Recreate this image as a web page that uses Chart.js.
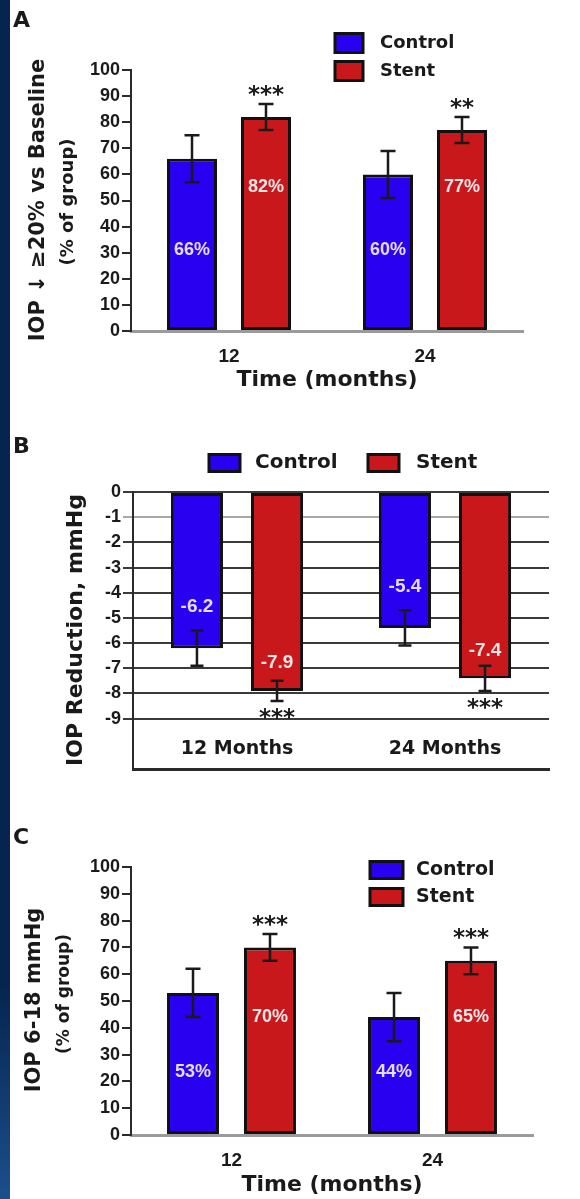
<!DOCTYPE html>
<html>
<head>
<meta charset="utf-8">
<script src="https://cdn.jsdelivr.net/npm/chart.js@4.4.1/dist/chart.umd.min.js"></script>
<style>
  html, body { margin: 0; padding: 0; background: #fff; }
  body { width: 580px; height: 1199px; position: relative; overflow: hidden; }
  canvas { position: absolute; left: 0; }
  #strip {
    position: absolute; left: 0; top: 0; width: 10px; height: 1199px; z-index: 2;
    background: linear-gradient(#06244f 0%, #06244f 82%, #1b4f8c 100%);
  }
</style>
</head>
<body>
<div id="strip"></div>
<canvas id="chartA" width="580" height="400" style="top:0;width:580px;height:400px"></canvas>
<canvas id="chartB" width="580" height="400" style="top:400px;width:580px;height:400px"></canvas>
<canvas id="chartC" width="580" height="399" style="top:800px;width:580px;height:399px"></canvas>
<script>
// data
const timeLabels = ["12", "24"];
const monthLabels = ["12 Months", "24 Months"];
const seriesNames = ["Control", "Stent"];

const percentTicks = [0, 10, 20, 30, 40, 50, 60, 70, 80, 90, 100];
const reductionTicks = [0, -1, -2, -3, -4, -5, -6, -7, -8, -9];

// A: IOP down >= 20% vs baseline (% of group)
const dropControl = [66, 60];
const dropStent = [82, 77];
const dropControlErr = [9, 9];
const dropStentErr = [5, 5];
const dropStars = ["***", "**"];

// B: IOP reduction, mmHg
const reductionControl = [-6.2, -5.4];
const reductionStent = [-7.9, -7.4];
const reductionControlErr = [0.7, 0.7];
const reductionStentErr = [0.4, 0.5];
const reductionStars = ["***", "***"];

// C: IOP 6-18 mmHg (% of group)
const rangeControl = [53, 44];
const rangeStent = [70, 65];
const rangeControlErr = [9, 9];
const rangeStentErr = [5, 5];
const rangeStars = ["***", "***"];

const FONT = '"DejaVu Sans", "Liberation Sans", sans-serif';
const NUM = '"Liberation Sans", Arial, sans-serif';
const BLUE = "#2a00f0";
const RED = "#c8181c";
const INK = "#1a1a1a";

// error bars, value labels, stars, legend and free text
const decor = {
  id: "decor",
  afterDatasetsDraw(chart, args, o) {
    const ctx = chart.ctx;
    const y = chart.scales.y;
    ctx.save();
    chart.data.datasets.forEach((ds, di) => {
      const meta = chart.getDatasetMeta(di);
      meta.data.forEach((bar, i) => {
        const v = ds.data[i];
        const e = ds.errors[i];
        const cx = bar.x;
        const yHi = y.getPixelForValue(v + e);
        const yLo = y.getPixelForValue(v - e);
        ctx.strokeStyle = INK;
        ctx.lineWidth = 2.5;
        ctx.beginPath();
        ctx.moveTo(cx, yHi); ctx.lineTo(cx, yLo);
        ctx.moveTo(cx - o.cap, yHi); ctx.lineTo(cx + o.cap, yHi);
        ctx.moveTo(cx - o.cap, yLo); ctx.lineTo(cx + o.cap, yLo);
        ctx.stroke();

        // value inside the bar
        const at = o.labelMode === "fixed" ? o.labelPos[di] : v + o.labelPos[di];
        ctx.font = "bold " + o.labelSize + "px " + NUM;
        ctx.fillStyle = di === 0 ? "#e4dcff" : "#f7e4e4";
        ctx.textAlign = "center";
        ctx.textBaseline = "middle";
        const txt = o.labelMode === "fixed" ? v + "%" : v.toFixed(1);
        ctx.fillText(txt, cx, y.getPixelForValue(at));

        // significance stars on the stent bars
        if (di === 1) {
          ctx.font = "bold 23px " + FONT;
          ctx.fillStyle = INK;
          ctx.textBaseline = "alphabetic";
          const sy = o.starDir === "up" ? yHi - 14 : yLo + 12;
          ctx.fillText(o.stars[i], cx, sy + 12);
        }
      });
    });

    // category labels drawn inside the plot (panel B)
    if (o.catLabels) {
      const x = chart.scales.x;
      ctx.font = "bold " + o.catSize + "px " + FONT;
      ctx.fillStyle = INK;
      ctx.textAlign = "center";
      ctx.textBaseline = "middle";
      o.catLabels.forEach((t, i) => ctx.fillText(t, x.getPixelForValue(i), o.catY));
    }

    // legend
    o.legend.forEach((it, di) => {
      const ds = chart.data.datasets[di];
      ctx.fillStyle = ds.backgroundColor;
      ctx.fillRect(it.x, it.cy - o.box[1] / 2, o.box[0], o.box[1]);
      ctx.lineWidth = 3;
      ctx.strokeStyle = "#111";
      ctx.strokeRect(it.x, it.cy - o.box[1] / 2, o.box[0], o.box[1]);
      ctx.font = "bold " + o.legendSize + "px " + FONT;
      ctx.fillStyle = INK;
      ctx.textAlign = "left";
      ctx.textBaseline = "middle";
      ctx.fillText(ds.label, it.tx, it.cy);
    });

    // panel letter and axis titles
    o.texts.forEach((t) => {
      ctx.save();
      ctx.translate(t.x, t.y);
      if (t.rot) ctx.rotate(-Math.PI / 2);
      ctx.font = "bold " + t.size + "px " + FONT;
      ctx.fillStyle = INK;
      ctx.textAlign = t.align || "center";
      ctx.textBaseline = "middle";
      ctx.fillText(t.t, 0, 0);
      ctx.restore();
    });
    ctx.restore();
  },
};

function barSet(name, values, errors, color, cat, bar) {
  return {
    label: name,
    data: values,
    errors: errors,
    backgroundColor: color,
    borderColor: "#111",
    borderWidth: 3,
    borderSkipped: false,
    categoryPercentage: cat,
    barPercentage: bar,
  };
}

function makeChart(id, labels, sets, yOpts, xOpts, layoutPad, yWidth, xHeight, decorOpts) {
  return new Chart(document.getElementById(id), {
    type: "bar",
    data: { labels: labels, datasets: sets },
    options: {
      responsive: false,
      animation: false,
      devicePixelRatio: 1,
      layout: { padding: layoutPad },
      plugins: { legend: { display: false }, tooltip: { enabled: false }, decor: decorOpts },
      scales: {
        x: Object.assign({ afterFit: (s) => { s.height = xHeight; } }, xOpts),
        y: Object.assign({ afterFit: (s) => { s.width = yWidth; } }, yOpts),
      },
    },
    plugins: [decor],
  });
}

const percentAxis = {
  min: 0,
  max: 100,
  afterBuildTicks: (s) => { s.ticks = percentTicks.map((v) => ({ value: v })); },
  grid: { drawOnChartArea: false, tickLength: 9, color: "#2a2a2a", lineWidth: 2 },
  border: { color: "#2a2a2a", width: 2 },
  ticks: { font: { family: NUM, size: 18, weight: "bold" }, color: INK, padding: 2 },
};

function timeAxis(pad) {
  return {
    grid: { display: false },
    border: { color: "#9b9b9b", width: 3 },
    ticks: { font: { family: NUM, size: 19, weight: "bold" }, color: INK, padding: pad },
  };
}

// Panel A
makeChart(
  "chartA",
  timeLabels,
  [
    barSet(seriesNames[0], dropControl, dropControlErr, BLUE, 0.755, 0.676),
    barSet(seriesNames[1], dropStent, dropStentErr, RED, 0.755, 0.676),
  ],
  percentAxis,
  timeAxis(6),
  { left: 0, right: 57, top: 70, bottom: 0 },
  131,
  69,
  {
    cap: 7.5,
    labelMode: "fixed",
    labelPos: [31, 55],
    labelSize: 18,
    starDir: "up",
    stars: dropStars,
    box: [28, 19],
    legend: [{ x: 335, cy: 43, tx: 380 }, { x: 335, cy: 71, tx: 380 }],
    legendSize: 18,
    texts: [
      { t: "A", x: 13, y: 21, size: 22, align: "left" },
      { t: "IOP ↓ ≥20% vs Baseline", x: 39, y: 200, size: 21, rot: true },
      { t: "(% of group)", x: 68, y: 202, size: 18, rot: true },
      { t: "Time (months)", x: 327, y: 380, size: 22 },
    ],
  }
);

// Panel B
makeChart(
  "chartB",
  monthLabels,
  [
    barSet(seriesNames[0], reductionControl, reductionControlErr, BLUE, 0.77, 0.65),
    barSet(seriesNames[1], reductionStent, reductionStentErr, RED, 0.77, 0.65),
  ],
  {
    min: -11,
    max: 0,
    afterBuildTicks: (s) => { s.ticks = reductionTicks.map((v) => ({ value: v })); },
    grid: {
      drawOnChartArea: true,
      tickLength: 10,
      color: (c) => (c.tick && c.tick.value === -1 ? "#a8a8a8" : "#3a3a3a"),
      lineWidth: 2,
    },
    border: { color: "#2a2a2a", width: 2 },
    ticks: { font: { family: NUM, size: 18, weight: "bold" }, color: INK, padding: 2 },
  },
  {
    grid: { display: false },
    border: { color: "#2a2a2a", width: 3 },
    ticks: { display: false },
  },
  { left: 0, right: 31, top: 92, bottom: 0 },
  133,
  31,
  {
    cap: 6.5,
    labelMode: "offset",
    labelPos: [1.65, 1.1],
    labelSize: 19,
    starDir: "down",
    stars: reductionStars,
    catLabels: monthLabels,
    catY: 349,
    catSize: 19,
    box: [31, 17],
    legend: [{ x: 209, cy: 63, tx: 255 }, { x: 368, cy: 63, tx: 416 }],
    legendSize: 20,
    texts: [
      { t: "B", x: 13, y: 47, size: 22, align: "left" },
      { t: "IOP Reduction, mmHg", x: 76, y: 230, size: 22, rot: true },
    ],
  }
);

// Panel C
makeChart(
  "chartC",
  timeLabels,
  [
    barSet(seriesNames[0], rangeControl, rangeControlErr, BLUE, 0.766, 0.675),
    barSet(seriesNames[1], rangeStent, rangeStentErr, RED, 0.766, 0.675),
  ],
  percentAxis,
  timeAxis(6),
  { left: 0, right: 47, top: 67, bottom: 0 },
  131,
  64,
  {
    cap: 7.5,
    labelMode: "fixed",
    labelPos: [23.5, 44],
    labelSize: 18,
    starDir: "up",
    stars: rangeStars,
    box: [33, 17],
    legend: [{ x: 370, cy: 70, tx: 416 }, { x: 370, cy: 97, tx: 416 }],
    legendSize: 19,
    texts: [
      { t: "C", x: 13, y: 38, size: 22, align: "left" },
      { t: "IOP 6-18 mmHg", x: 35, y: 200, size: 21, rot: true },
      { t: "(% of group)", x: 65, y: 194, size: 17, rot: true },
      { t: "Time (months)", x: 332, y: 385, size: 22 },
    ],
  }
);
</script>
</body>
</html>
